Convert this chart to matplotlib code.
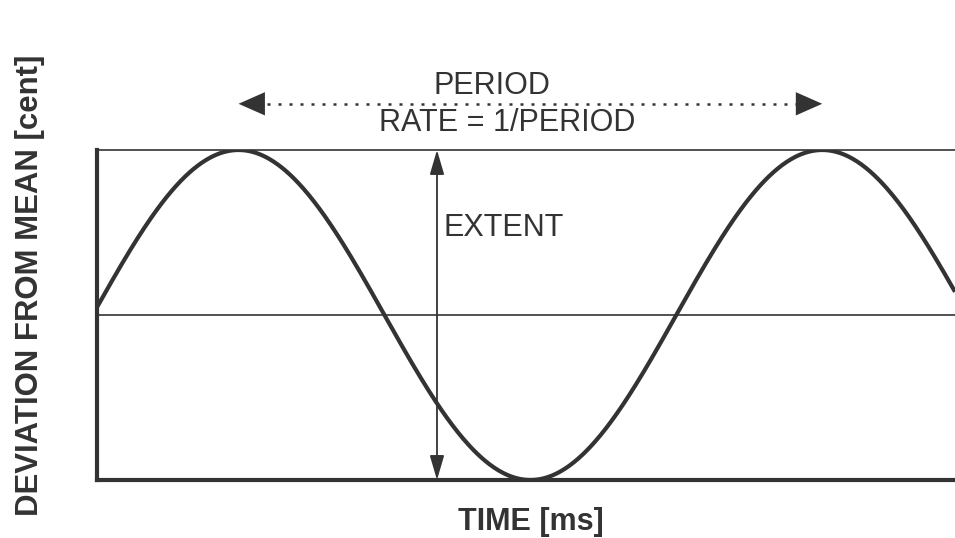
import numpy as np
from matplotlib import pyplot as plt

# vibrato shape
period_ms = 200.0          # peak to peak distance
extent_cent = 100.0        # peak to trough distance
rise_ms = -1.5             # rising mean crossing just left of the axis
t_range = (0.0, 294.0)     # visible time window
extent_at_ms = 116.5       # where the EXTENT arrow stands

x_label = "TIME [ms]"
y_label = "DEVIATION FROM MEAN [cent]"
period_text = "PERIOD"
rate_text = "RATE = 1/PERIOD"
extent_text = "EXTENT"

ink = '#333333'
plt.rcParams['font.family'] = ['Liberation Sans', 'DejaVu Sans']

fig = plt.figure(figsize=(9.55, 5.38), dpi=100)
ax = fig.add_axes([97 / 955, 1 - 480 / 538, 858 / 955, 330 / 538])

half = extent_cent / 2
t = np.linspace(t_range[0], t_range[1], 800)
dev = half * np.sin(2 * np.pi * (t - rise_ms) / period_ms)

ax.plot(t, dev, color=ink, lw=3.0, solid_capstyle='butt')
ax.axhline(0, color=ink, lw=1.2)

ax.set_xlim(*t_range)
ax.set_ylim(-half, half)
ax.set_xticks([])
ax.set_yticks([])
ax.spines['right'].set_visible(False)
ax.spines['left'].set_linewidth(3.0)
ax.spines['bottom'].set_linewidth(3.0)
ax.spines['top'].set_linewidth(1.2)
for s in ax.spines.values():
    s.set_color(ink)

# period arrow between the two peaks (dotted shaft, solid heads)
peak1 = rise_ms + period_ms / 4
peak2 = peak1 + period_ms
y_per = half + 14.0
ax.plot([peak1 + 6, peak2 - 6], [y_per, y_per], color=ink, lw=1.8,
        ls=(0, (1.2, 3.2)), clip_on=False)
ax.annotate('', xy=(peak1, y_per), xytext=(peak2, y_per), annotation_clip=False,
            arrowprops=dict(arrowstyle='<|-|>,head_length=0.95,head_width=0.42',
                            mutation_scale=20, lw=0, color=ink,
                            shrinkA=0, shrinkB=0))
ax.text(135.4, half + 19.4, period_text, ha='center', va='center',
        fontsize=22, color=ink, clip_on=False)
ax.text(140.5, half + 8.2, rate_text, ha='center', va='center',
        fontsize=22, color=ink, clip_on=False)

# extent arrow, top line to bottom line
ax.annotate('', xy=(extent_at_ms, half), xytext=(extent_at_ms, -half),
            arrowprops=dict(arrowstyle='<|-|>,head_length=0.75,head_width=0.22',
                            mutation_scale=20, lw=1.3, color=ink,
                            shrinkA=0, shrinkB=0))
ax.text(118.6, 26.4, extent_text, ha='left', va='center', fontsize=22, color=ink)

ax.set_xlabel(x_label, fontsize=22, fontweight='bold', color=ink)
ax.set_ylabel(y_label, fontsize=22.4, fontweight='bold', color=ink)
ax.xaxis.set_label_coords(0.506, -0.082)
ax.yaxis.set_label_coords(-0.061, 0.59)

fig.savefig('out.png', dpi=100, facecolor='white')
